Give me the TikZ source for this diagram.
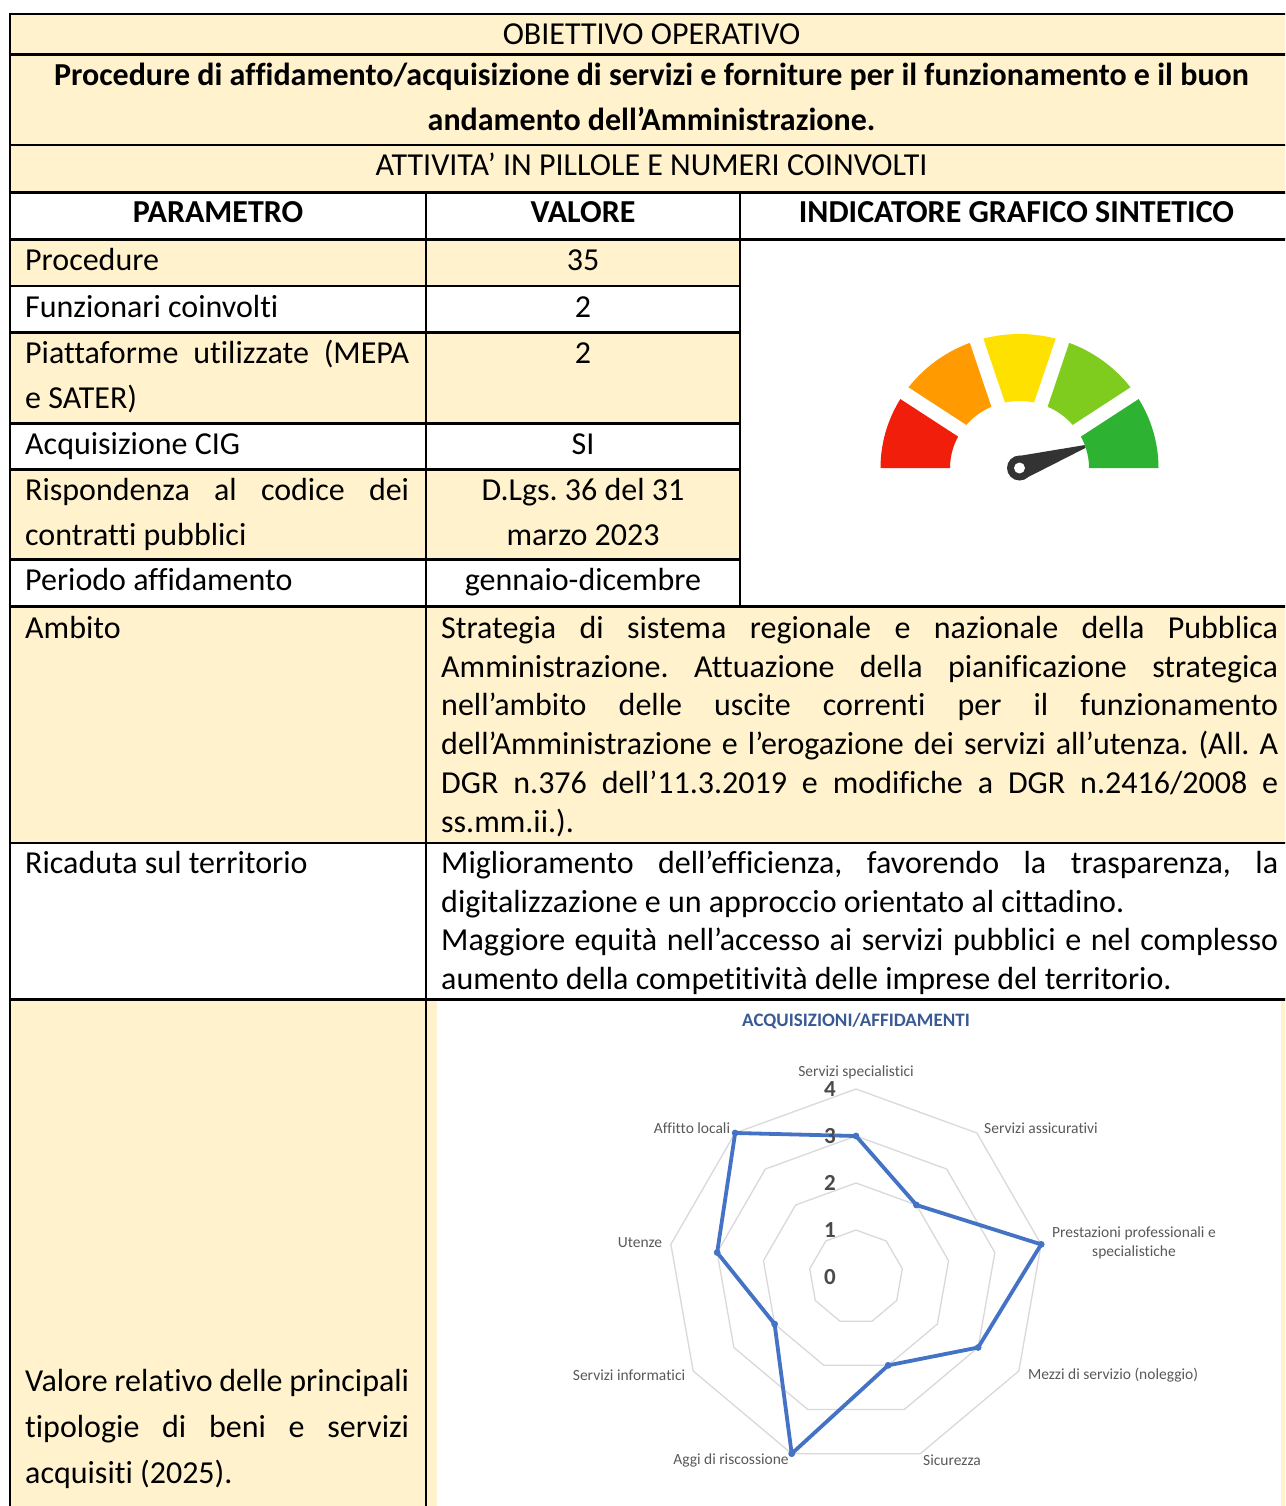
\documentclass[tikz,border=0pt]{standalone}
\usepackage{fontspec}
\setmainfont{Carlito}[Ligatures={NoCommon}]
\usetikzlibrary{calc}
\definecolor{cellyellow}{HTML}{FFF2CC}
\definecolor{gred}{HTML}{F01E0A}
\definecolor{gorange}{HTML}{FF9A00}
\definecolor{gyellow}{HTML}{FFE100}
\definecolor{glgreen}{HTML}{80CC1E}
\definecolor{gdgreen}{HTML}{2DB331}
\definecolor{needlegray}{HTML}{333333}
\definecolor{gridgray}{HTML}{D9D9D9}
\definecolor{labelgray}{HTML}{595959}
\definecolor{valgray}{HTML}{4A4A4A}
\definecolor{serieblue}{HTML}{4472C4}
\definecolor{titleblue}{HTML}{3A5A94}
\frenchspacing
\begin{document}
\begin{tikzpicture}[x=1pt,y=-1pt,
  cell/.style={font=\fontsize{32}{45}\selectfont, inner sep=0pt, anchor=base west},
  cellc/.style={font=\fontsize{32}{45}\selectfont, inner sep=0pt, anchor=base},
  cellb/.style={font=\fontsize{32}{45}\selectfont\bfseries, inner sep=0pt, anchor=base},
  tablerule/.style={line width=2.6pt, black, line cap=rect},
  gridline/.style={gridgray, line width=1.3pt},
  dataline/.style={serieblue, line width=3.8pt, line join=round},
  catlabel/.style={font=\fontsize{15.5}{18}\selectfont, text=labelgray, inner sep=0pt},
  vlabel/.style={font=\fontsize{23}{26}\selectfont\bfseries, text=valgray, inner sep=0pt, anchor=east}
]
\useasboundingbox (0,0) rectangle (1285,1506);
\clip (0,0) rectangle (1285,1506);
\fill[white] (0,0) rectangle (1285,1506);

% yellow cells
\fill[cellyellow] (10,14) rectangle (1293,192.3);
\fill[cellyellow] (10,239.3) rectangle (740,286);
\fill[cellyellow] (10,332.3) rectangle (740,423.3);
\fill[cellyellow] (10,469.5) rectangle (740,559.5);
\fill[cellyellow] (10,606.7) rectangle (1293,843);
\fill[cellyellow] (10,999.3) rectangle (1293,1506);
\fill[white] (437,1001) rectangle (1281,1506);

% rules
\foreach \yy in {14,54.5,145,192.3,239.3,606.7,843,999.3}
  \draw[tablerule] (10,\yy) -- (1293,\yy);
\foreach \yy in {286,332.3,423.3,469.5,559.5}
  \draw[tablerule] (10,\yy) -- (740,\yy);
\draw[tablerule] (10,14) -- (10,1506);
\draw[tablerule] (426,192.3) -- (426,1506);
\draw[tablerule] (740,192.3) -- (740,606.7);
\draw[tablerule] (1293,14) -- (1293,1506);

% header texts
\node[cellc] (t1) at (651.5,45) {OBIETTIVO OPERATIVO};
\node[cellb] (t2a) at (651.5,86) {Procedure di affidamento/acquisizione di servizi e forniture per il funzionamento e il buon};
\node[cellb] (t2b) at (651.5,131) {andamento dell’Amministrazione.};
\node[cellc] (t3) at (651.5,176) {ATTIVITA’ IN PILLOLE E NUMERI COINVOLTI};
\node[cellb] (h1) at (218,223) {PARAMETRO};
\node[cellb] (h2) at (583,223) {VALORE};
\node[cellb] (h3) at (1016.5,223) {INDICATORE GRAFICO SINTETICO};

% column 1
\node[cell] (p1) at (25,270) {Procedure};
\node[cell] (p2) at (25,317) {Funzionari coinvolti};
\node[cell] (p3a) at (25,363) {\makebox[384pt][s]{Piattaforme utilizzate (MEPA}};
\node[cell] (p3b) at (25,408) {e SATER)};
\node[cell] (p4) at (25,454) {Acquisizione CIG};
\node[cell] (p5a) at (25,500.5) {\makebox[384pt][s]{Rispondenza al codice dei}};
\node[cell] (p5b) at (25,545.5) {contratti pubblici};
\node[cell] (p6) at (25,590.5) {Periodo affidamento};
\node[cell] (p7) at (25,638.3) {Ambito};
\node[cell] (p8) at (25,873.3) {Ricaduta sul territorio};
\node[cell] (p9a) at (25,1391) {\makebox[384pt][s]{Valore relativo delle principali}};
\node[cell] (p9b) at (25,1437) {\makebox[384pt][s]{tipologie di beni e servizi}};
\node[cell] (p9c) at (25,1483) {acquisiti (2025).};

% column 2 values
\node[cellc] (v1) at (583,270) {35};
\node[cellc] (v2) at (583,317) {2};
\node[cellc] (v3) at (583,363) {2};
\node[cellc] (v4) at (583,454) {SI};
\node[cellc] (v5a) at (583,500.5) {D.Lgs. 36 del 31};
\node[cellc] (v5b) at (583,545.5) {marzo 2023};
\node[cellc] (v6) at (583,590.5) {gennaio-dicembre};

% Ambito
\node[cell] (a1) at (441,638.3) {\makebox[837pt][s]{Strategia di sistema regionale e nazionale della Pubblica}};
\node[cell] (a2) at (441,677.1) {\makebox[837pt][s]{Amministrazione. Attuazione della pianificazione strategica}};
\node[cell] (a3) at (441,715.9) {\makebox[837pt][s]{nell’ambito delle uscite correnti per il funzionamento}};
\node[cell] (a4) at (441,754.7) {\makebox[837pt][s]{dell’Amministrazione e l’erogazione dei servizi all’utenza. (All. A}};
\node[cell] (a5) at (441,793.5) {\makebox[837pt][s]{DGR n.376 dell’11.3.2019 e modifiche a DGR n.2416/2008 e}};
\node[cell] (a6) at (441,832.3) {ss.mm.ii.).};

% Ricaduta
\node[cell] (r1) at (441,873.3) {\makebox[837pt][s]{Miglioramento dell’efficienza, favorendo la trasparenza, la}};
\node[cell] (r2) at (441,912.1) {digitalizzazione e un approccio orientato al cittadino.};
\node[cell] (r3) at (441,950.9) {\makebox[837pt][s]{Maggiore equità nell’accesso ai servizi pubblici e nel complesso}};
\node[cell] (r4) at (441,989.7) {aumento della competitività delle imprese del territorio.};

% gauge
\coordinate (G) at (1019.5,468);
\begin{scope}[shift={(G)}, yscale=0.964]
  \foreach \a/\b/\c in {0/34/gdgreen,34/72/glgreen,72/108/gyellow,108/146/gorange,146/180/gred}
    \fill[\c] (\a:139pt) arc[start angle=\a, end angle=\b, radius=139pt]
      -- (\b:69.5pt) arc[start angle=\b, end angle=\a, radius=69.5pt] -- cycle;
  \foreach \a in {34,72,108,146}
    \draw[white, line width=14pt] (\a:55pt) -- (\a:150pt);
\end{scope}
\fill[needlegray] (1023.3,479.5) -- (1085.5,447.9) -- (1084.5,445.1) -- (1015.7,456.5) -- cycle;
\fill[needlegray] (G) circle (12.5pt);
\fill[white] (G) circle (5.5pt);

% radar chart
\node[font=\fontsize{19}{22}\selectfont\bfseries, text=titleblue, inner sep=0pt] (ctitle) at (856,1021) {ACQUISIZIONI/AFFIDAMENTI};
\coordinate (C) at (856,1277);
\begin{scope}[shift={(C)}]
  \foreach \v in {1,2,3,4}
    \draw[gridline] (90:{\v*47pt}) \foreach \k in {1,...,8}{ -- ({90-40*\k}:{\v*47pt})} -- cycle;
  \foreach \k/\v in {0/3,1/2,2/4,3/3,4/2,5/4,6/2,7/3,8/4}
    \coordinate (d\k) at ({90-40*\k}:{\v*47pt});
\end{scope}
\draw[dataline] (d0) -- (d1) -- (d2) -- (d3) -- (d4) -- (d5) -- (d6) -- (d7) -- (d8) -- cycle;
\foreach \k in {0,...,8} \fill[serieblue] (d\k) circle (3.4pt);
\foreach \v in {0,...,4}
  \node[vlabel] (val\v) at (836,{1277-47*\v}) {\v};

\node[catlabel] (c0) at (856,1072) {Servizi specialistici};
\node[catlabel] (c1) at (1041,1128) {Servizi assicurativi};
\node[catlabel] (c2a) at (1134,1233) {Prestazioni professionali e};
\node[catlabel] (c2b) at (1134,1252) {specialistiche};
\node[catlabel] (c3) at (1113,1375) {Mezzi di servizio (noleggio)};
\node[catlabel] (c4) at (952,1460) {Sicurezza};
\node[catlabel] (c5) at (731,1460) {Aggi di riscossione};
\node[catlabel] (c6) at (629,1375) {Servizi informatici};
\node[catlabel] (c7) at (640,1243) {Utenze};
\node[catlabel] (c8) at (692,1128) {Affitto locali};
\end{tikzpicture}
\end{document}
